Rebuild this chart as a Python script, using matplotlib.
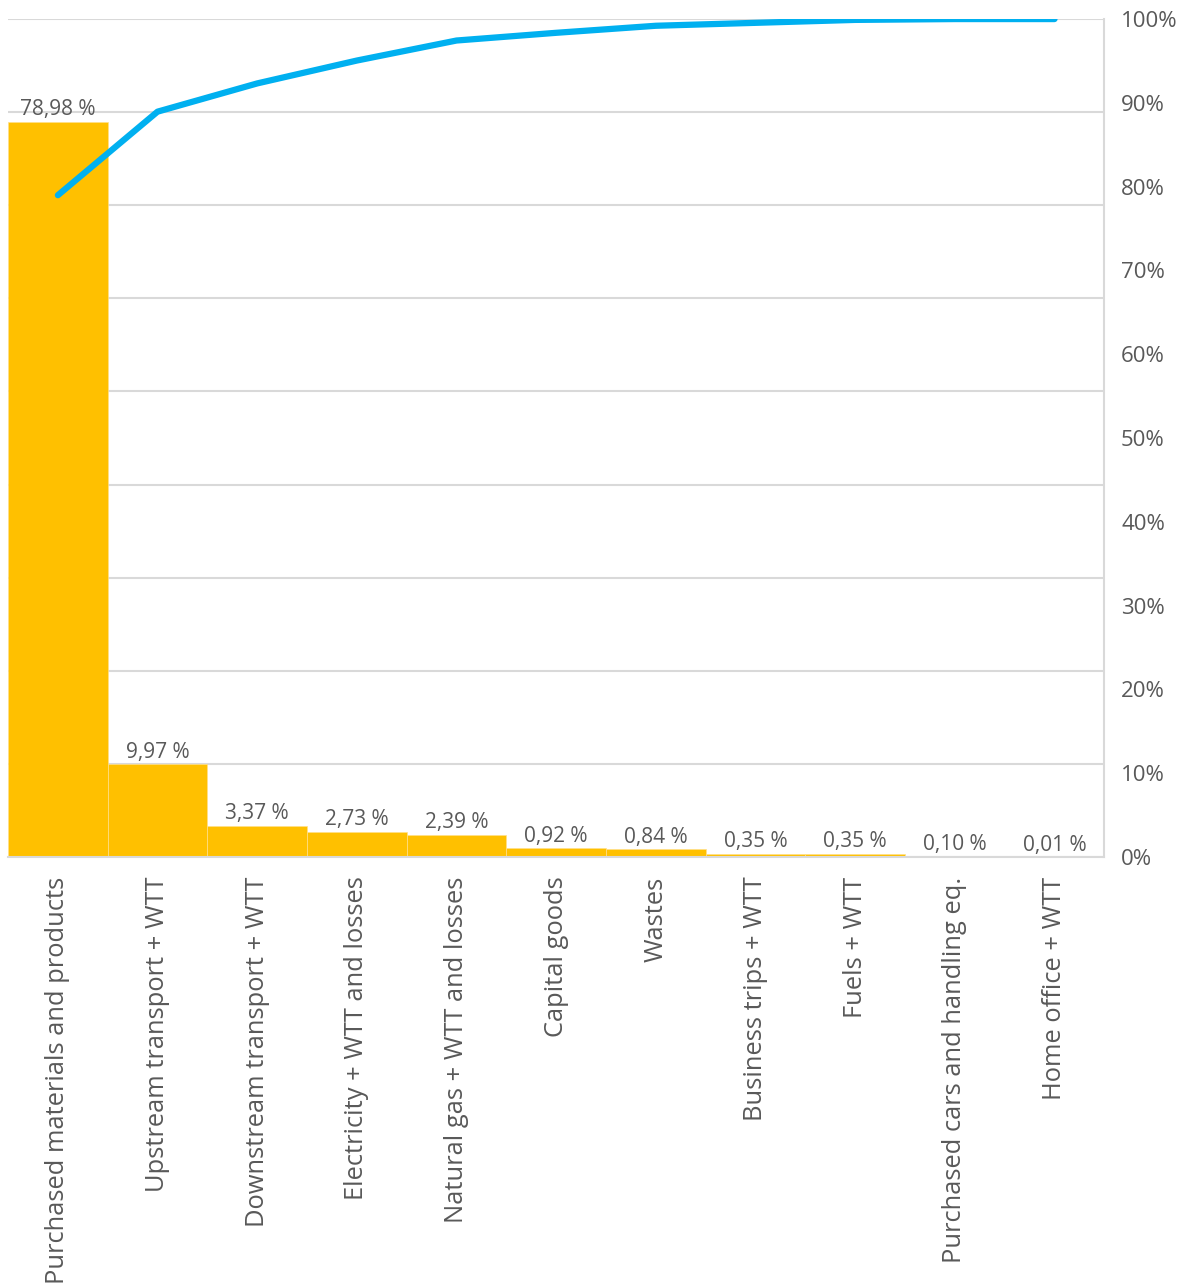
import matplotlib
matplotlib.use("Agg")
import matplotlib.pyplot as plt
import numpy as np

plt.rcParams['font.family'] = ['Open Sans', 'DejaVu Sans']

categories = [
    "Purchased materials and products",
    "Upstream transport + WTT",
    "Downstream transport + WTT",
    "Electricity + WTT and losses",
    "Natural gas + WTT and losses",
    "Capital goods",
    "Wastes",
    "Business trips + WTT",
    "Fuels + WTT",
    "Purchased cars and handling eq.",
    "Home office + WTT",
]
shares = [78.98, 9.97, 3.37, 2.73, 2.39, 0.92, 0.84, 0.35, 0.35, 0.10, 0.01]
cumulative = [78.98, 88.95, 92.32, 95.05, 97.44, 98.36, 99.20, 99.55, 99.90, 100.00, 100.00]

bar_color = "#FFC000"
line_color = "#00B0F0"
text_color = "#595959"
grid_color = "#D9D9D9"

fig = plt.figure(figsize=(11.82, 12.88), dpi=100)
ax = fig.add_axes([0.0068, 0.3346, 0.9275, 0.6506])
x = np.arange(len(categories))

ax.bar(x, shares, width=1.0, color=bar_color, edgecolor="#FFE08A", linewidth=0.5, zorder=2)
ax.set_xlim(-0.5, len(categories) - 0.5)
ax.set_ylim(0, 90)
ax.set_yticks(np.arange(0, 91, 10))
ax.yaxis.grid(True, color=grid_color, linewidth=1.5, zorder=0)
ax.set_xticks(x)
ax.set_xticklabels(categories, rotation=90, fontsize=18.4, color=text_color)
ax.tick_params(axis="x", length=0, pad=14)
for side in ["top", "left"]:
    ax.spines[side].set_visible(False)
for side in ["bottom", "right"]:
    ax.spines[side].set_color(grid_color)
    ax.spines[side].set_linewidth(1.5)

# Labels boven de balken
for i, v in enumerate(shares):
    ax.text(i, v + 0.15, f"{v:.2f} %".replace(".", ","), ha="center", va="bottom",
            fontsize=15, color=text_color)

# Cumulatieve lijn op de rechter as
ax2 = ax.twinx()
ax2.plot(x, cumulative, color=line_color, linewidth=4.5, solid_capstyle="round",
         solid_joinstyle="round", zorder=3)
ax2.set_ylim(0, 100)
ax2.set_yticks(np.arange(0, 101, 10))
ax2.set_yticklabels([f"{t}%" for t in range(0, 101, 10)], fontsize=16, color=text_color)
ax2.tick_params(axis="y", length=0, pad=12)
for side in ["top", "left", "bottom", "right"]:
    ax2.spines[side].set_visible(False)

# twinx zet de linker ticks weer aan
ax.tick_params(axis="y", left=False, labelleft=False, length=0)

fig.savefig("out.png", dpi=100)
